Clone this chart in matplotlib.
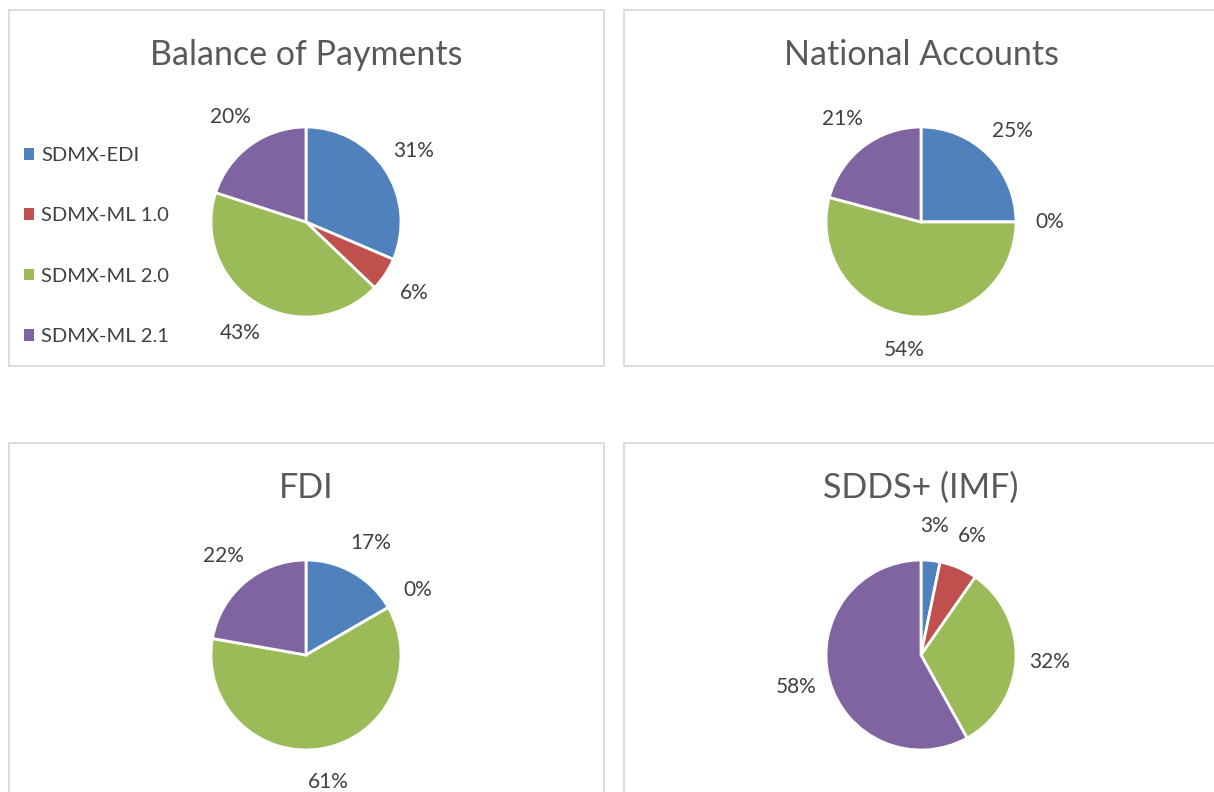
import matplotlib
matplotlib.use('Agg')
import matplotlib.pyplot as plt
from matplotlib.patches import Rectangle, Patch

plt.rcParams['font.family'] = ['Lato', 'DejaVu Sans']

# 数据
formats = ['SDMX-EDI', 'SDMX-ML 1.0', 'SDMX-ML 2.0', 'SDMX-ML 2.1']
colors = ['#4F81BD', '#C0504D', '#9BBB59', '#8064A2']

titles = ['Balance of Payments', 'National Accounts', 'FDI', 'SDDS+ (IMF)']
bop = [11, 2, 15, 7]
national_accounts = [6, 0, 13, 5]
fdi = [3, 0, 11, 4]
sdds_plus = [1, 2, 10, 18]

W, H = 1214, 792
fig = plt.figure(figsize=(W / 100, H / 100), dpi=100)
fig.patch.set_facecolor('white')

border = '#D9D9D9'
txt = '#404040'

# 面板边框 (像素: x0, y0 顶部, x1, y1)
panels = [(9, 10, 604, 366), (624, 10, 1240, 366),
          (9, 443, 604, 820), (624, 443, 1240, 820)]
centers = [(306, 222), (921, 222), (306, 655), (921, 655)]
R = 95
LIM = 2.0

for (x0, y0, x1, y1) in panels:
    fig.add_artist(Rectangle((x0 / W, 1 - y1 / H), (x1 - x0) / W, (y1 - y0) / H,
                             transform=fig.transFigure, fill=False,
                             edgecolor=border, linewidth=1.3))

datasets = [bop, national_accounts, fdi, sdds_plus]
for i, (data, title) in enumerate(zip(datasets, titles)):
    cx, cy = centers[i]
    ax = fig.add_axes([(cx - LIM * R) / W, (H - cy - LIM * R) / H,
                       2 * LIM * R / W, 2 * LIM * R / H])
    wedges, texts, autotexts = ax.pie(
        data, colors=colors, startangle=90, counterclock=False,
        autopct='%.0f%%', pctdistance=1.36,
        wedgeprops=dict(edgecolor='white', linewidth=2),
        textprops=dict(color=txt, fontsize=15))
    ax.set_xlim(-LIM, LIM)
    ax.set_ylim(-LIM, LIM)
    ax.set_aspect('equal')
    ax.axis('off')

    # 标题
    top = panels[i][1]
    fig.text(cx / W, 1 - (top + 45) / H, title, ha='center', va='center',
             fontsize=24.5, color='#595959')

# 图例
handles = [Patch(facecolor=c, edgecolor='none') for c in colors]
fig.legend(handles, formats, loc='center left',
           bbox_to_anchor=(6 / W, 1 - 246 / H), frameon=False,
           handlelength=0.5, handleheight=0.5, handletextpad=0.35,
           labelspacing=2.15, fontsize=14.5, labelcolor=txt)

plt.savefig('out.png', dpi=100, facecolor='white')
